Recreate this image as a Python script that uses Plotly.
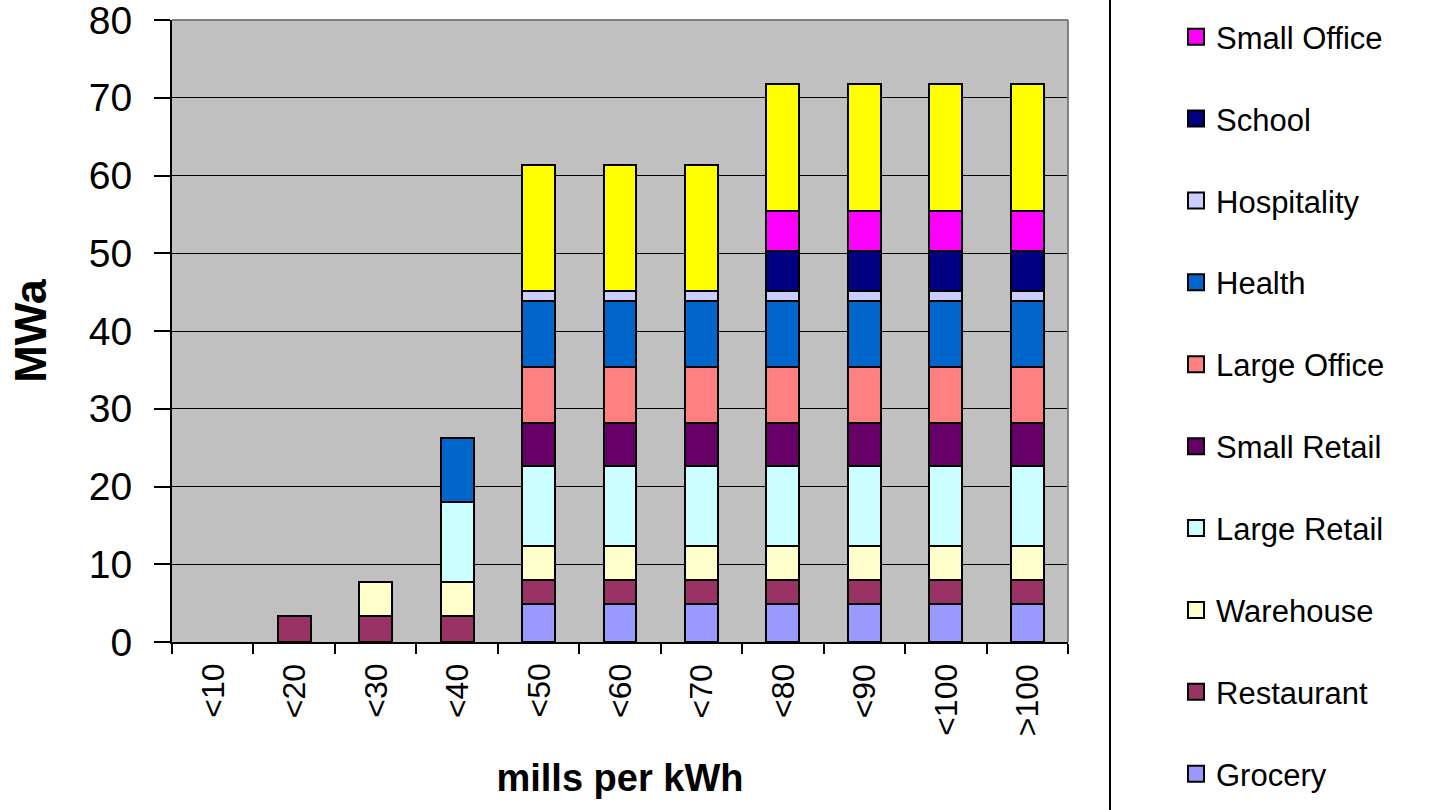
import plotly.graph_objects as go

# Price bins (mills per kWh)
categories = ["<10", "<20", "<30", "<40", "<50", "<60", "<70", "<80", "<90", "<100", ">100"]

# Average megawatts available in each price bin, by building type
grocery      = [0, 0,   0,   0,    4.9, 4.9, 4.9, 4.9, 4.9, 4.9, 4.9]
restaurant   = [0, 3.3, 3.3, 3.3,  3.1, 3.1, 3.1, 3.1, 3.1, 3.1, 3.1]
warehouse    = [0, 0,   4.4, 4.4,  4.3, 4.3, 4.3, 4.3, 4.3, 4.3, 4.3]
large_retail = [0, 0,   0,   10.3, 10.3, 10.3, 10.3, 10.3, 10.3, 10.3, 10.3]
small_retail = [0, 0,   0,   0,    5.6, 5.6, 5.6, 5.6, 5.6, 5.6, 5.6]
large_office = [0, 0,   0,   0,    7.2, 7.2, 7.2, 7.2, 7.2, 7.2, 7.2]
health       = [0, 0,   0,   8.2,  8.5, 8.5, 8.5, 8.5, 8.5, 8.5, 8.5]
hospitality  = [0, 0,   0,   0,    1.3, 1.3, 1.3, 1.3, 1.3, 1.3, 1.3]
school       = [0, 0,   0,   0,    0,   0,   0,   5.1, 5.1, 5.1, 5.1]
small_office = [0, 0,   0,   0,    0,   0,   0,   5.1, 5.1, 5.1, 5.1]
other        = [0, 0,   0,   0,    16.1, 16.1, 16.1, 16.4, 16.4, 16.4, 16.4]

series = [
    ("Grocery", grocery, "#9999FF"),
    ("Restaurant", restaurant, "#993366"),
    ("Warehouse", warehouse, "#FFFFCC"),
    ("Large Retail", large_retail, "#CCFFFF"),
    ("Small Retail", small_retail, "#660066"),
    ("Large Office", large_office, "#FF8080"),
    ("Health", health, "#0066CC"),
    ("Hospitality", hospitality, "#CCCCFF"),
    ("School", school, "#000080"),
    ("Small Office", small_office, "#FF00FF"),
]
other_color = "#FFFF00"

FONT = "Liberation Sans, Arial, sans-serif"


def nonzero(vals):
    # empty segments are left out so no outline is drawn for them
    return [v if v else None for v in vals]


fig = go.Figure()

# Stacked bars (bottom to top)
for name, vals, color in series:
    fig.add_trace(go.Bar(
        x=categories, y=nonzero(vals), name=name, marker_color=color,
        marker_line=dict(color="black", width=2), showlegend=False,
    ))
fig.add_trace(go.Bar(
    x=categories, y=nonzero(other), name="Other", marker_color=other_color,
    marker_line=dict(color="black", width=2), showlegend=False,
))

# Legend entries as square swatches, listed top to bottom
for name, vals, color in reversed(series):
    fig.add_trace(go.Scatter(
        x=[None], y=[None], mode="markers", name=name, legendgroup=name,
        marker=dict(symbol="square", size=16, color=color,
                    line=dict(color="black", width=2)),
    ))

L, R, T, B = 172, 387, 20, 168
W, H = 1455, 810
pw, ph = W - L - R, H - T - B


def px_x(px):
    return (px - L) / pw


def px_y(py):
    return (H - B - py) / ph


# Rotated category labels, top-aligned just under the axis
cat_labels = [
    dict(x=c, y=0, xref="x", yref="y", text=c, textangle=-90,
         showarrow=False, xanchor="center", yanchor="top", yshift=-20,
         font=dict(size=32, family=FONT, color="black"))
    for c in categories
]

fig.update_layout(
    width=W, height=H,
    margin=dict(l=L, r=R, t=T, b=B, autoexpand=False),
    barmode="stack", bargap=0.595,
    plot_bgcolor="#C0C0C0", paper_bgcolor="white",
    font=dict(family=FONT, color="black"),
    legend=dict(
        x=px_x(1176), y=px_y(10), xanchor="left", yanchor="top",
        font=dict(size=31, family=FONT), traceorder="grouped",
        tracegroupgap=38.6, bgcolor="rgba(0,0,0,0)", maxheight=805,
    ),
    xaxis=dict(
        type="category", tickson="boundaries", ticks="outside", ticklen=10,
        tickwidth=2, tickcolor="black", showticklabels=False,
        showgrid=False, showline=True,
        linecolor="black", linewidth=2, automargin=False,
        title=dict(text="<b>mills per kWh</b>", font=dict(size=38), standoff=121),
    ),
    yaxis=dict(
        range=[0, 80], dtick=10, ticks="outside", ticklen=16, tickwidth=2,
        tickcolor="black", tickfont=dict(size=39), ticklabelstandoff=14,
        ticklabeloverflow="allow",
        showgrid=True, gridcolor="black", gridwidth=1, zeroline=False,
        showline=True, linecolor="black", linewidth=2, automargin=False,
        title=dict(text="<b>MWa</b>", font=dict(size=45), standoff=28),
    ),
    annotations=cat_labels,
    shapes=[
        # gray plot-area border on top and right
        dict(type="line", xref="paper", yref="paper", x0=0, x1=1, y0=1, y1=1,
             line=dict(color="#808080", width=2)),
        dict(type="line", xref="paper", yref="paper", x0=1, x1=1, y0=0, y1=1,
             line=dict(color="#808080", width=2)),
        # legend frame edge
        dict(type="line", xref="paper", yref="paper",
             x0=px_x(1110), x1=px_x(1110), y0=px_y(H + 5), y1=px_y(-5),
             line=dict(color="black", width=2)),
    ],
)

fig.write_html("out.html")
